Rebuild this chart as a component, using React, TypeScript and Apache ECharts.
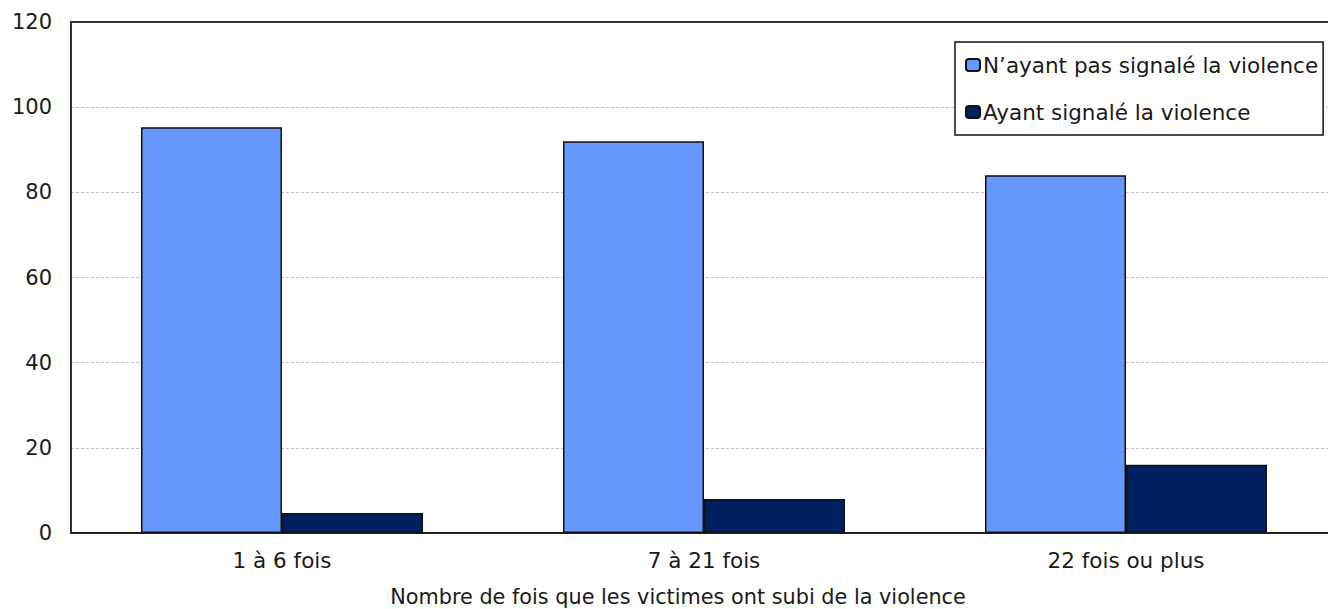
import React, { useEffect, useRef } from "react";
import * as echarts from "echarts";

const categories = ["1 à 6 fois", "7 à 21 fois", "22 fois ou plus"];
const seriesNames = ["N’ayant pas signalé la violence", "Ayant signalé la violence"];
const notReported = [95.3, 92.0, 84.0];
const reported = [4.7, 8.0, 16.0];
const yTicks = { min: 0, max: 120, interval: 20 };
const xTitle = "Nombre de fois que les victimes ont subi de la violence";

const FONT = "DejaVu Sans";
const TXT = "#1a1a1a";

export default function App() {
  const ref = useRef<HTMLDivElement>(null);
  useEffect(() => {
    if (!ref.current) return;
    const chart = echarts.init(ref.current, undefined, { renderer: "svg" });
    chart.setOption({
      animation: false,
      textStyle: { fontFamily: FONT },
      grid: { left: 71, top: 22, width: 1266, height: 511, show: true, borderColor: "#333", borderWidth: 2, containLabel: false },
      legend: {
        orient: "vertical",
        left: 955,
        top: 42,
        padding: [12, 5, 12, 10],
        itemWidth: 14,
        itemHeight: 12,
        itemGap: 25,
        borderColor: "#111",
        borderWidth: 1.5,
        backgroundColor: "#fff",
        textStyle: { fontFamily: FONT, fontSize: 21.5, color: TXT, padding: [0, 0, 0, -2] },
        data: seriesNames,
      },
      xAxis: {
        type: "category",
        data: categories,
        axisLine: { show: true, lineStyle: { color: "#222", width: 2 } },
        axisTick: { show: false },
        axisLabel: { fontFamily: FONT, fontSize: 21.5, color: TXT, margin: 16 },
        splitLine: { show: false },
      },
      yAxis: {
        type: "value",
        min: yTicks.min,
        max: yTicks.max,
        interval: yTicks.interval,
        axisLine: { show: true, lineStyle: { color: "#333", width: 2 } },
        axisTick: { show: false },
        axisLabel: { fontFamily: FONT, fontSize: 21, color: TXT, margin: 19 },
        splitLine: { show: true, showMinLine: false, showMaxLine: false, lineStyle: { color: "#c0c0c0", width: 1.2, type: [3, 2] } },
      },
      series: [
        {
          name: seriesNames[0],
          type: "bar",
          data: notReported,
          barWidth: 141,
          barGap: "0%",
          itemStyle: { color: "#6699FF", borderColor: "#111", borderWidth: 1.5 },
        },
        {
          name: seriesNames[1],
          type: "bar",
          data: reported,
          barWidth: 141,
          barGap: "0%",
          itemStyle: { color: "#002060", borderColor: "#111", borderWidth: 1.5 },
        },
      ],
      graphic: [
        {
          type: "text",
          x: 678,
          y: 597,
          style: { text: xTitle, fontFamily: FONT, fontSize: 20.8, fill: TXT, textAlign: "center", textVerticalAlign: "middle" },
        },
      ],
    });
    return () => chart.dispose();
  }, []);
  return (
    <div style={{ position: "absolute", left: 0, top: 0, width: 1328, height: 609, overflow: "hidden" }}>
      <div ref={ref} style={{ width: 1350, height: 609 }} />
    </div>
  );
}
